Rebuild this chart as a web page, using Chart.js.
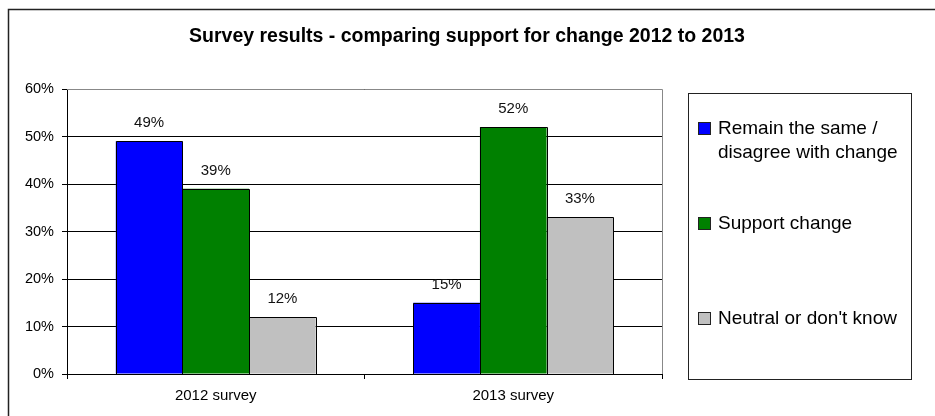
<!DOCTYPE html>
<html>
<head>
<meta charset="utf-8">
<title>Survey results</title>
<script src="https://cdn.jsdelivr.net/npm/chart.js@4"></script>
<style>
  html, body { margin: 0; padding: 0; background: #fff; }
  #wrap { position: relative; width: 935px; height: 416px; }
</style>
</head>
<body>
<div id="wrap"><canvas id="chart"></canvas></div>
<script>
const TITLE = "Survey results - comparing support for change 2012 to 2013";
const categories = ["2012 survey", "2013 survey"];
const seriesNames = ["Remain the same / disagree with change", "Support change", "Neutral or don't know"];
const remainSame = [49, 15];
const supportChange = [39, 52];
const neutral = [12, 33];
const yTicks = [0, 10, 20, 30, 40, 50, 60];

const FONT = "'Liberation Sans', Arial, sans-serif";

// crisp black outlines round each bar (canvas AA turns 1px borders grey otherwise)
const outlines = {
  id: "outlines",
  afterDatasetsDraw(chart) {
    const c = chart.ctx;
    c.save();
    c.strokeStyle = "#000";
    c.lineWidth = 1;
    chart.data.datasets.forEach((ds, i) => {
      chart.getDatasetMeta(i).data.forEach(bar => {
        const { x, y, base, width } = bar.getProps(["x", "y", "base", "width"], true);
        const l = Math.round(x - width / 2) + 0.5, r = Math.round(x + width / 2) + 0.5;
        const t = Math.round(y) + 0.5, b = Math.round(base);
        c.beginPath();
        c.moveTo(l, b); c.lineTo(l, t); c.lineTo(r, t); c.lineTo(r, b);
        c.stroke();
      });
    });
    c.restore();
  }
};

// title, outer frame, plot border, value labels and the boxed legend
const decor = {
  id: "decor",
  afterDraw(chart) {
    const c = chart.ctx, a = chart.chartArea;
    c.save();

    // outer frame
    c.strokeStyle = "#222";
    c.lineWidth = 1.5;
    c.strokeRect(8.5, 9.5, 940, 420);

    // plot area border (top + right)
    c.strokeStyle = "#888";
    c.lineWidth = 1;
    c.beginPath();
    c.moveTo(a.left, Math.round(a.top) + 0.5);
    c.lineTo(Math.round(a.right) + 0.5, Math.round(a.top) + 0.5);
    c.lineTo(Math.round(a.right) + 0.5, a.bottom);
    c.stroke();

    // title
    c.fillStyle = "#000";
    c.font = "bold 19.5px " + FONT;
    c.textAlign = "center";
    c.textBaseline = "middle";
    c.fillText(TITLE, 467, 37);

    // value labels above bars
    c.font = "15px " + FONT;
    c.fillStyle = "#111";
    chart.data.datasets.forEach((ds, i) => {
      chart.getDatasetMeta(i).data.forEach((bar, j) => {
        c.fillText(ds.data[j] + "%", bar.x, bar.y - 18);
      });
    });

    // legend box
    const lx = 688, ly = 93, lw = 223, lh = 286;
    c.strokeStyle = "#222";
    c.lineWidth = 1;
    c.strokeRect(lx + 0.5, ly + 0.5, lw, lh);
    c.font = "19px " + FONT;
    c.textAlign = "left";
    const rows = [129, 224, 319];
    chart.data.datasets.forEach((ds, i) => {
      const cy = rows[i];
      c.fillStyle = ds.backgroundColor;
      c.fillRect(698.5, cy - 6.5, 12, 12);
      c.strokeStyle = "#222";
      c.strokeRect(698.5, cy - 6.5, 12, 12);
      c.fillStyle = "#000";
      wrap(c, ds.label, 190).forEach((line, k) => c.fillText(line, 718, cy + k * 24));
    });
    c.restore();
  }
};

function wrap(c, text, maxW) {
  const words = text.split(" ");
  const lines = [];
  let cur = "";
  words.forEach(w => {
    const t = cur ? cur + " " + w : w;
    if (c.measureText(t).width > maxW && cur) { lines.push(cur); cur = w; }
    else cur = t;
  });
  if (cur) lines.push(cur);
  return lines;
}

const barStyle = { borderWidth: 0, categoryPercentage: 0.672, barPercentage: 1 };

new Chart(document.getElementById("chart"), {
  type: "bar",
  data: {
    labels: categories,
    datasets: [
      { label: seriesNames[0], data: remainSame, backgroundColor: "#0000ff", ...barStyle },
      { label: seriesNames[1], data: supportChange, backgroundColor: "#008000", ...barStyle },
      { label: seriesNames[2], data: neutral, backgroundColor: "#c0c0c0", ...barStyle },
    ]
  },
  options: {
    responsive: true,
    maintainAspectRatio: false,
    animation: false,
    layout: { padding: { top: 89, right: 273, bottom: 0, left: 0 } },
    plugins: { legend: { display: false }, title: { display: false }, tooltip: { enabled: false } },
    scales: {
      x: {
        afterFit: s => { s.height = 42; },
        border: { color: "#000", width: 1 },
        grid: { offset: true, drawOnChartArea: false, tickLength: 5, tickColor: "#000" },
        ticks: { color: "#000", padding: 8, font: { family: FONT, size: 15 } }
      },
      y: {
        min: 0, max: 60,
        afterFit: s => { s.width = 67; },
        afterBuildTicks: s => { s.ticks = yTicks.map(v => ({ value: v })); },
        border: { color: "#000", width: 1 },
        grid: { color: "#000", tickLength: 5, tickColor: "#000" },
        ticks: { color: "#000", padding: 8, font: { family: FONT, size: 14.5 }, callback: v => v + "%" }
      }
    }
  },
  plugins: [outlines, decor]
});
</script>
</body>
</html>
